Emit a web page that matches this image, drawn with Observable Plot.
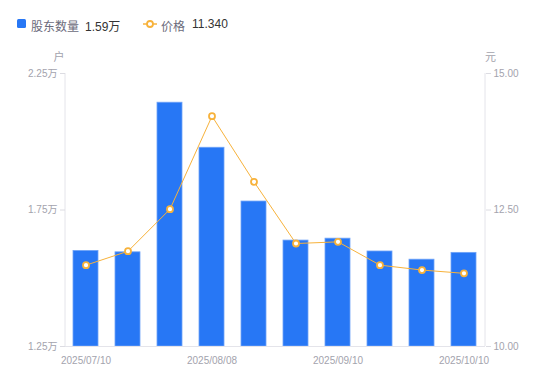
<!DOCTYPE html>
<html><head><meta charset="utf-8">
<script src="https://cdn.jsdelivr.net/npm/d3@7"></script>
<script src="https://cdn.jsdelivr.net/npm/@observablehq/plot@0.6"></script>
<style>
body{margin:0;background:#fff;font-family:"Liberation Sans","Noto Sans CJK SC",sans-serif;}
#wrap{position:relative;width:550px;height:381px;}
#legend{height:45px;position:relative;font-size:12px;}
#legend span{position:absolute;top:17px;white-space:nowrap;}
</style></head>
<body><div id="wrap"><div id="legend"></div><div id="chart"></div></div>
<script>
const dates = ["2025/07/10","2025/07/18","2025/07/31","2025/08/08","2025/08/20","2025/08/29","2025/09/10","2025/09/19","2025/09/30","2025/10/10"];
const holders = [1.600, 1.595, 2.143, 1.978, 1.781, 1.638, 1.645, 1.598, 1.568, 1.593]; // 万户
const prices = [11.49, 11.745, 12.515, 14.218, 13.016, 11.886, 11.917, 11.490, 11.400, 11.340]; // 元
const xTickLabels = ["2025/07/10","2025/08/08","2025/09/10","2025/10/10"];
const leftTicks = [1.25, 1.75, 2.25];
const rightTicks = [10, 12.5, 15];

const blue = "#2777f5", orange = "#f7b23b", gray = "#a3a3ad", lineGray = "#e4e4ea";
const pToY = p => 1.25 + (p - 10) * 0.2;
const yToP = y => (y - 1.25) * 5 + 10;

const data = dates.map((d, i) => ({date: d, v: holders[i], p: prices[i]}));

// legend
const lg = document.getElementById("legend");
lg.innerHTML = `
<span style="left:17px;top:19px;width:9px;height:9px;background:${blue};border-radius:1.5px"></span>
<span style="left:31px;color:#6b6b7b">股东数量</span>
<span style="left:85px;color:#333">${holders[holders.length-1].toFixed(2)}万</span>
<svg style="position:absolute;left:143px;top:18px" width="14" height="12"><line x1="0" x2="14" y1="6" y2="6" stroke="${orange}" stroke-width="1.5"/><circle cx="7" cy="6" r="3" fill="#fff" stroke="${orange}" stroke-width="1.8"/></svg>
<span style="left:161px;color:#6b6b7b">价格</span>
<span style="left:192px;color:#333">${prices[prices.length-1].toFixed(3)}</span>`;

const chart = Plot.plot({
  width: 550, height: 336,
  marginLeft: 65, marginRight: 65, marginTop: 28, marginBottom: 35,
  style: {fontFamily: '"Liberation Sans","Noto Sans CJK SC",sans-serif', fontSize: "10px", color: gray, background: "#fff"},
  x: {type: "band", domain: dates, paddingInner: 0.4, paddingOuter: 0.2, label: null},
  y: {domain: [1.25, 2.25], label: null},
  marks: [
    Plot.barY(data, {x: "date", y1: () => 1.25, y2: "v", fill: blue, stroke: "#6fa3f7", strokeWidth: 0.8}),
    Plot.ruleX([dates[0]], {y1: 1.25, y2: 2.25, stroke: lineGray, dx: -21}),
    Plot.ruleX([dates[dates.length-1]], {y1: 1.25, y2: 2.25, stroke: lineGray, dx: 21}),
    Plot.ruleY([1.25], {stroke: lineGray}),
    Plot.axisY({anchor: "left", ticks: leftTicks, tickSize: 5, tickPadding: 3, stroke: "#dcdce2", fill: gray, tickFormat: d => d.toFixed(2) + "万", label: null}),
    Plot.axisY({anchor: "right", ticks: rightTicks.map(pToY), tickSize: 5, tickPadding: 3, stroke: "#dcdce2", fill: gray, tickFormat: d => yToP(d).toFixed(2), label: null}),
    Plot.axisX({ticks: xTickLabels, tickSize: 0, tickPadding: 10, fill: gray, label: null}),
    Plot.line(data, {x: "date", y: d => pToY(d.p), stroke: orange, strokeWidth: 1}),
    Plot.dot(data, {x: "date", y: d => pToY(d.p), r: 3, fill: "#fff", stroke: orange, strokeWidth: 1.8}),
    Plot.text(["户"], {frameAnchor: "top-left", textAnchor: "middle", dx: -6.5, dy: -20, fill: gray, fontSize: 11}),
    Plot.text(["元"], {frameAnchor: "top-right", textAnchor: "middle", dx: 5, dy: -20, fill: gray, fontSize: 11})
  ]
});
document.getElementById("chart").appendChild(chart);
</script></body></html>
